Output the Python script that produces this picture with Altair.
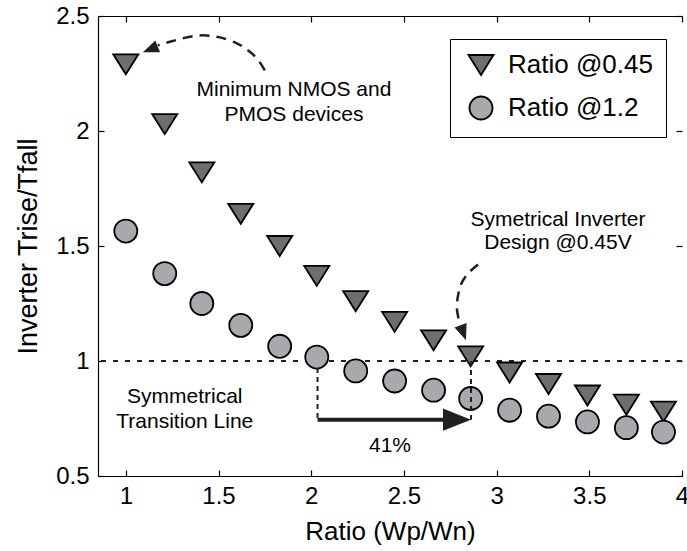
import altair as alt
import pandas as pd

# Inverter rise/fall time ratio versus PMOS/NMOS width ratio
ratio = [1.0, 1.21, 1.41, 1.62, 1.83, 2.03, 2.24, 2.45, 2.66, 2.86, 3.07, 3.28, 3.49, 3.70, 3.90]
trf_045 = [2.29, 2.03, 1.82, 1.64, 1.50, 1.37, 1.26, 1.17, 1.09, 1.02, 0.95, 0.90, 0.85, 0.81, 0.78]
trf_12 = [1.565, 1.38, 1.25, 1.155, 1.064, 1.017, 0.957, 0.913, 0.873, 0.837, 0.786, 0.760, 0.735, 0.710, 0.691]
series_names = ["Ratio @0.45", "Ratio @1.2"]
series_fill = ["#6d6e70", "#a7a9ac"]

x_ticks = [1, 1.5, 2, 2.5, 3, 3.5, 4]
y_ticks = [0.5, 1, 1.5, 2, 2.5]
x_domain = [0.85, 4.0]
y_domain = [0.5, 2.5]

# annotation texts (one row per line)
note_x = [1.907, 1.907, 3.331, 3.331, 1.318, 1.318, 2.425]
note_y = [2.177, 2.068, 1.611, 1.512, 0.842, 0.734, 0.629]
note_text = ["Minimum NMOS and", "PMOS devices", "Symetrical Inverter", "Design @0.45V",
             "Symmetrical", "Transition Line", "41%"]

# dashed curved pointers
curve1_x = [1.750, 1.707, 1.658, 1.599, 1.507, 1.416, 1.329, 1.248, 1.173]
curve1_y = [2.264, 2.316, 2.351, 2.381, 2.407, 2.416, 2.407, 2.390, 2.373]
curve2_x = [2.900, 2.851, 2.813, 2.792, 2.786, 2.797]
curve2_y = [1.420, 1.385, 1.342, 1.285, 1.229, 1.177]
head_x = [1.092, 2.835]
head_y = [2.342, 1.090]
head_angle = [158, 70]

# 41% shift arrow
shift_from = 2.034
shift_to = 2.862
shift_level = 0.745
drop_x = [2.034, 2.862]
drop_top = [0.97, 1.0]

FONT = "Liberation Sans"
TRI_DOWN = "M-1.09,-0.87L1.09,-0.87L0,0.87Z"
ARROW = "M-2,-0.8L0,0L-2,0.8Z"
MARK_SIZE = 530
W, H = 584, 460

xs = alt.Scale(domain=x_domain, nice=False, zero=False)
ys = alt.Scale(domain=y_domain, nice=False, zero=False)

points = pd.DataFrame({
    "x": ratio + ratio,
    "y": trf_045 + trf_12,
    "series": [series_names[0]] * len(ratio) + [series_names[1]] * len(ratio),
    "order": [0] * len(ratio) + [1] * len(ratio),
})


def frame(x_axis, y_axis):
    return alt.Chart(points).mark_point(opacity=0).encode(
        x=alt.X("x:Q", scale=xs, axis=x_axis),
        y=alt.Y("y:Q", scale=ys, axis=y_axis),
    )


# labelled bottom / left axes
main_axes = frame(
    alt.Axis(orient="bottom", values=x_ticks, format="~g", ticks=False, tickSize=0,
             labelPadding=8, title="Ratio (Wp/Wn)", titlePadding=10, titleFontSize=26,
             grid=False, labelFlush=False, labelOverlap=False),
    alt.Axis(orient="left", values=y_ticks, format="~g", ticks=False, tickSize=0,
             labelPadding=9, title="Inverter Trise/Tfall", titlePadding=13, titleFontSize=27,
             grid=False, labelFlush=False, labelOverlap=False),
)
# inward ticks on bottom and left edges
inner_bl = frame(
    alt.Axis(orient="top", offset=-H, values=x_ticks, labels=False, domain=False,
             tickSize=6, title=None, grid=False),
    alt.Axis(orient="right", offset=-W, values=y_ticks, labels=False, domain=False,
             tickSize=6, title=None, grid=False),
)
# top border with inward ticks, inward ticks on the right edge
inner_tr = frame(
    alt.Axis(orient="bottom", offset=-H, values=x_ticks, labels=False, domain=True,
             tickSize=6, title=None, grid=False),
    alt.Axis(orient="left", offset=-W, values=y_ticks, labels=False, domain=False,
             tickSize=6, title=None, grid=False),
)

unity = alt.Chart(pd.DataFrame({"y": [1.0]})).mark_rule(
    color="#231f20", strokeWidth=2.2, strokeDash=[5, 7]
).encode(y=alt.Y("y:Q", scale=ys, axis=None))

series_legend = alt.Legend(
    orient="none", legendX=352, legendY=23, title=None,
    strokeColor="black", fillColor="white", padding=13,
    symbolSize=MARK_SIZE, symbolStrokeColor="black", symbolStrokeWidth=1.8,
    symbolOffset=5, labelFontSize=26, labelFont=FONT, labelColor="black",
    rowPadding=13, labelOffset=14,
)

scatter = alt.Chart(points).mark_point(
    filled=True, strokeWidth=1.8, opacity=1, size=MARK_SIZE
).encode(
    x=alt.X("x:Q", scale=xs, axis=None),
    y=alt.Y("y:Q", scale=ys, axis=None),
    shape=alt.Shape("series:N", scale=alt.Scale(domain=series_names, range=[TRI_DOWN, "circle"]),
                    legend=series_legend),
    fill=alt.Fill("series:N", scale=alt.Scale(domain=series_names, range=series_fill),
                  legend=series_legend),
    stroke=alt.Stroke("series:N", scale=alt.Scale(domain=series_names, range=["black", "black"]),
                      legend=series_legend),
    order=alt.Order("order:Q"),
)

drops = alt.Chart(pd.DataFrame({"x": drop_x, "y": drop_top, "y2": [shift_level] * 2})).mark_rule(
    color="#231f20", strokeWidth=2, strokeDash=[5, 4]
).encode(
    x=alt.X("x:Q", scale=xs, axis=None),
    y=alt.Y("y:Q", scale=ys, axis=None),
    y2="y2:Q",
)

shift_line = alt.Chart(pd.DataFrame({"x": [shift_from], "x2": [shift_to - 0.13], "y": [shift_level]})).mark_rule(
    color="#231f20", strokeWidth=4
).encode(
    x=alt.X("x:Q", scale=xs, axis=None),
    x2="x2:Q",
    y=alt.Y("y:Q", scale=ys, axis=None),
)
shift_head = alt.Chart(pd.DataFrame({"x": [shift_to], "y": [shift_level]})).mark_point(
    shape=ARROW, filled=True, size=784, color="#231f20", opacity=1
).encode(
    x=alt.X("x:Q", scale=xs, axis=None),
    y=alt.Y("y:Q", scale=ys, axis=None),
)

curves = pd.DataFrame({
    "x": curve1_x + curve2_x,
    "y": curve1_y + curve2_y,
    "c": ["a"] * len(curve1_x) + ["b"] * len(curve2_x),
    "i": list(range(len(curve1_x))) + list(range(len(curve2_x))),
})
pointer_lines = alt.Chart(curves).mark_line(
    color="#231f20", strokeWidth=2.5, strokeDash=[10, 7], interpolate="cardinal"
).encode(
    x=alt.X("x:Q", scale=xs, axis=None),
    y=alt.Y("y:Q", scale=ys, axis=None),
    detail="c:N",
    order="i:Q",
)
pointer_heads = alt.Chart(pd.DataFrame({"x": head_x, "y": head_y, "a": head_angle})).mark_point(
    shape=ARROW, filled=True, size=256, color="#231f20", opacity=1
).encode(
    x=alt.X("x:Q", scale=xs, axis=None),
    y=alt.Y("y:Q", scale=ys, axis=None),
    angle=alt.Angle("a:Q", scale=None),
)

notes = alt.Chart(pd.DataFrame({"x": note_x, "y": note_y, "t": note_text})).mark_text(
    font=FONT, fontSize=21, color="black", align="center", baseline="middle"
).encode(
    x=alt.X("x:Q", scale=xs, axis=None),
    y=alt.Y("y:Q", scale=ys, axis=None),
    text="t:N",
)

chart = alt.layer(
    main_axes, inner_bl, inner_tr, unity, scatter, drops, shift_line, shift_head,
    pointer_lines, pointer_heads, notes,
).resolve_axis(
    x="independent", y="independent"
).properties(
    width=W, height=H,
    padding={"left": 98, "top": 16, "right": 5, "bottom": 75},
    autosize=alt.AutoSizeParams(type="none"),
    background="white",
).configure_view(
    stroke=None
).configure_axis(
    labelFont=FONT, titleFont=FONT, labelFontSize=24, titleFontSize=26,
    labelColor="black", titleColor="black", titleFontWeight="normal",
    domainColor="black", domainWidth=1.2, tickColor="black", tickWidth=1.2,
)

chart.save("out.html", embed_options={"renderer": "svg", "actions": False})
